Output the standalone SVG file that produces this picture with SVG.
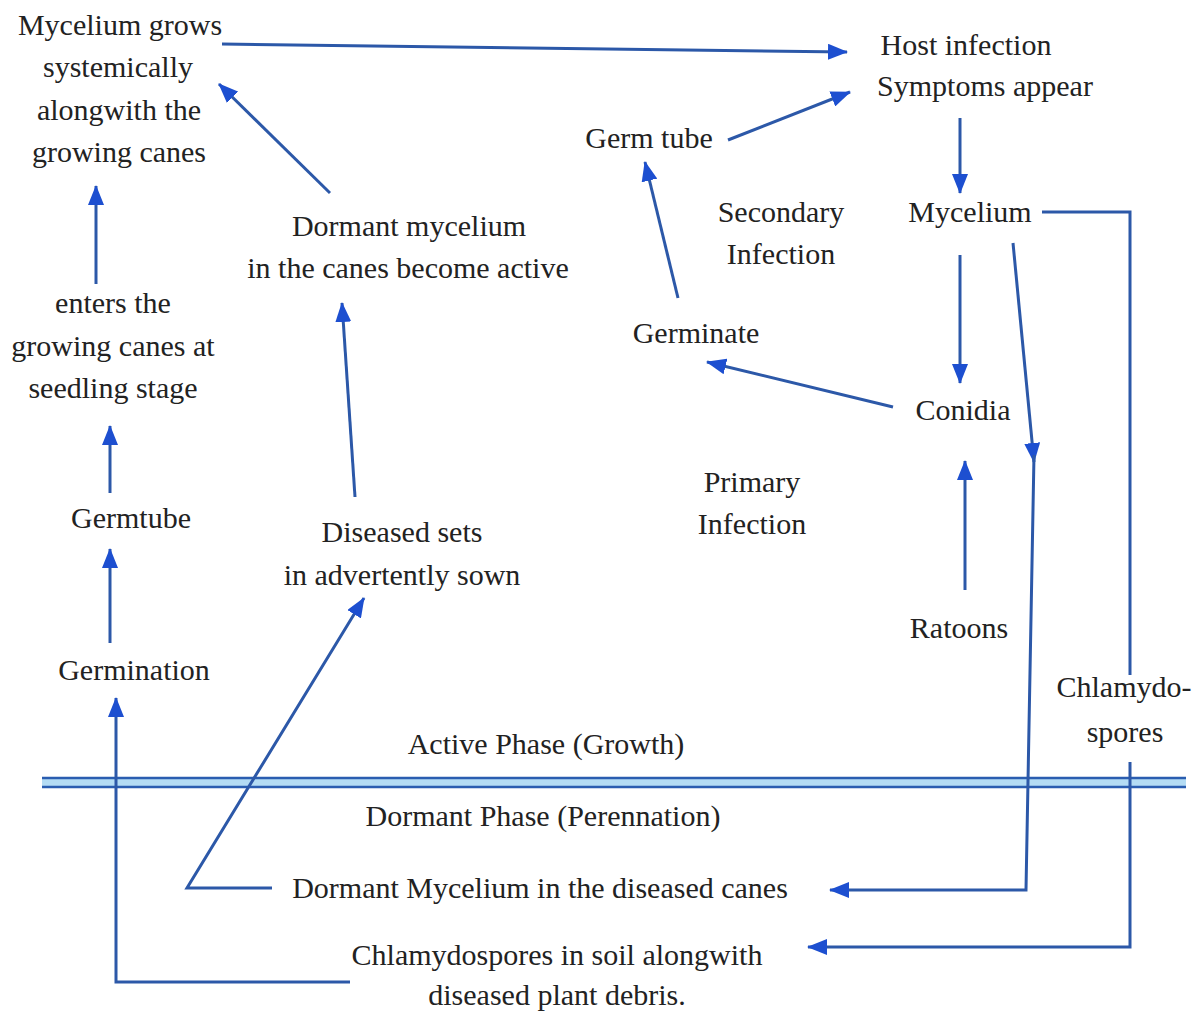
<svg xmlns="http://www.w3.org/2000/svg" width="1198" height="1014" viewBox="0 0 1198 1014">
<style>
.t text{font-size:30px;fill:#222;text-anchor:middle}
.c{fill:none;stroke:#2c58a8;stroke-width:3;stroke-linejoin:miter}
.a{marker-end:url(#ah)}
</style>
<defs>
<marker id="ah" viewBox="0 0 20 16" refX="19" refY="8" markerWidth="20" markerHeight="16" markerUnits="userSpaceOnUse" orient="auto">
<path d="M0,0 L20,8 L0,16 z" fill="#1d4fd0"/>
</marker>
</defs>
<rect width="1198" height="1014" fill="#fff"/>
<g id="phase-divider">
<rect x="42" y="778" width="1144" height="9" fill="#b4dcf4"/>
<line x1="42" y1="778" x2="1186" y2="778" stroke="#2a5db0" stroke-width="2.5"/>
<line x1="42" y1="787" x2="1186" y2="787" stroke="#2a5db0" stroke-width="2.5"/>
</g>
<g id="connectors">
<path class="c a" d="M222,44 L847,52"/>
<path class="c a" d="M728,140 L850,92"/>
<path class="c a" d="M960,118 L960,193"/>
<path class="c" d="M1042,212 L1130,212 L1130,675"/>
<path class="c a" d="M1130,762 L1130,947 L808,947"/>
<path class="c a" d="M1013,243 L1034,462"/>
<path class="c a" d="M1034,455 L1026,890 L830,890"/>
<path class="c a" d="M960,255 L960,383"/>
<path class="c a" d="M965,590 L965,461"/>
<path class="c a" d="M893,407 L707,362"/>
<path class="c a" d="M678,298 L645,162"/>
<path class="c a" d="M330,193 L219,84"/>
<path class="c a" d="M355,497 L342,303"/>
<path class="c a" d="M272,888 L187,888 L364,598"/>
<path class="c a" d="M96,284 L96,186"/>
<path class="c a" d="M110,493 L110,426"/>
<path class="c a" d="M110,643 L110,549"/>
<path class="c a" d="M350,982 L116,982 L116,698"/>
</g>
<g class="t" font-family="Liberation Serif, Times New Roman, serif">
<g id="n-mycelium-grows"><text x="120" y="35">Mycelium grows</text><text x="118" y="77">systemically</text><text x="119" y="120">alongwith the</text><text x="119" y="162">growing canes</text></g>
<g id="n-enters"><text x="113" y="313">enters the</text><text x="113" y="356">growing canes at</text><text x="113" y="398">seedling stage</text></g>
<g id="n-germtube"><text x="131" y="528">Germtube</text></g>
<g id="n-germination"><text x="134" y="680">Germination</text></g>
<g id="n-dormant-active"><text x="409" y="236">Dormant mycelium</text><text x="408" y="278">in the canes become active</text></g>
<g id="n-diseased-sets"><text x="402" y="542">Diseased sets</text><text x="402" y="585">in advertently sown</text></g>
<g id="n-host"><text x="966" y="55">Host infection</text><text x="985" y="96">Symptoms appear</text></g>
<g id="n-germ-tube"><text x="649" y="148">Germ tube</text></g>
<g id="n-secondary"><text x="781" y="222">Secondary</text><text x="781" y="264">Infection</text></g>
<g id="n-mycelium"><text x="970" y="222">Mycelium</text></g>
<g id="n-germinate"><text x="696" y="343">Germinate</text></g>
<g id="n-conidia"><text x="963" y="420">Conidia</text></g>
<g id="n-primary"><text x="752" y="492">Primary</text><text x="752" y="534">Infection</text></g>
<g id="n-ratoons"><text x="959" y="638">Ratoons</text></g>
<g id="n-chlamydo"><text x="1124" y="697">Chlamydo-</text><text x="1125" y="742">spores</text></g>
<g id="n-active"><text x="546" y="754">Active Phase (Growth)</text></g>
<g id="n-dormant-phase"><text x="543" y="826">Dormant Phase (Perennation)</text></g>
<g id="n-dormant-mycelium"><text x="540" y="898">Dormant Mycelium in the diseased canes</text></g>
<g id="n-chlamydospores-soil"><text x="557" y="965">Chlamydospores in soil alongwith</text><text x="557" y="1005">diseased plant debris.</text></g>
</g>
</svg>
